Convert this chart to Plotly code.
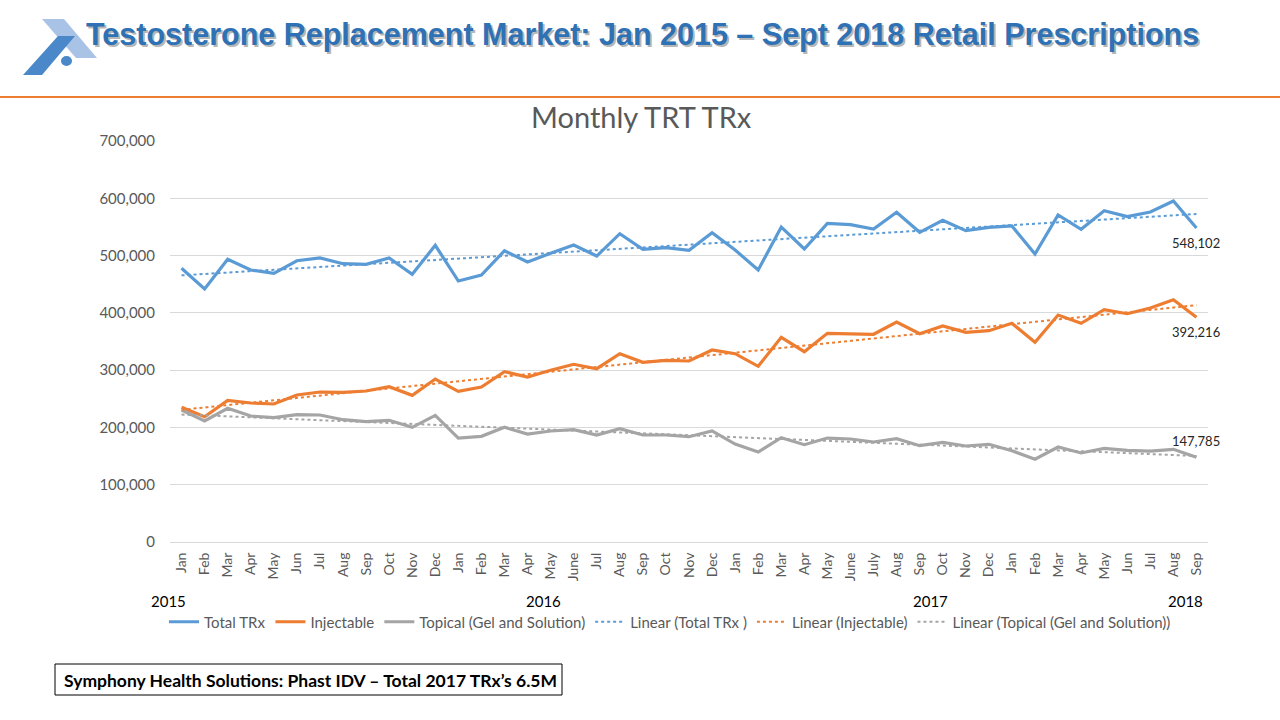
import numpy as np
import plotly.graph_objects as go

months = ["Jan","Feb","Mar","Apr","May","Jun","Jul","Aug","Sep","Oct","Nov","Dec",
          "Jan","Feb","Mar","Apr","May","June","Jul","Aug","Sep","Oct","Nov","Dec",
          "Jan","Feb","Mar","Apr","May","June","July","Aug","Sep","Oct","Nov","Dec",
          "Jan","Feb","Mar","Apr","May","Jun","Jul","Aug","Sep"]
years = ["2015", "2016", "2017", "2018"]
year_label_px = [168, 543, 930, 1185]

total_trx = [477800, 441600, 493500, 474800, 469000, 491000, 495800, 485800, 484700, 495800, 467300, 517900,
             455600, 466000, 508500, 488800, 504000, 518400, 499200, 538200, 510900, 513800, 509200, 540000,
             509700, 474800, 549900, 511500, 556300, 553900, 546400, 575500, 540600, 561600, 543500, 549300,
             551600, 502700, 570800, 545800, 578300, 567900, 576000, 595300, 548102]
injectable = [235100, 218700, 247300, 242600, 240900, 256600, 261800, 261300, 263600, 271100, 256000, 284500,
              263000, 270600, 297300, 288000, 299700, 310200, 302500, 328700, 313700, 317200, 316000, 335200,
              328700, 306700, 357300, 332200, 364300, 364000, 362600, 384000, 363600, 377000, 366000, 368900,
              381700, 348600, 396200, 381700, 405500, 398500, 408500, 423000, 392216]
topical = [230400, 211200, 233400, 219900, 217000, 222200, 221700, 213500, 210000, 212400, 200200, 221100,
           181500, 184500, 200200, 188500, 193800, 196000, 186800, 197800, 186800, 186800, 183800, 193800,
           171000, 157100, 182100, 169900, 181500, 179800, 174600, 180300, 168100, 174000, 167600, 170500,
           159400, 144400, 165800, 155400, 163500, 160000, 158800, 161800, 147785]

series = [("Total TRx", total_trx, "#5B9BD5", "Linear (Total TRx )"),
          ("Injectable", injectable, "#ED7D31", "Linear (Injectable)"),
          ("Topical (Gel and Solution)", topical, "#A5A5A5", "Linear (Topical (Gel and Solution))")]

x = np.arange(len(months))

W, H = 1280, 720
ML, MR, MT, MB = 170, 72, 141, 178
PW, PH = W - ML - MR, H - MT - MB


def xp(px):
    return (px - ML) / PW


def yp(py):
    return (H - MB - py) / PH


FONT = "Lato"
fig = go.Figure()

for name, vals, col, _ in series:
    fig.add_trace(go.Scatter(x=x, y=vals, mode="lines", name=name,
                             line=dict(color=col, width=3.2)))
for name, vals, col, tname in series:
    k, b = np.polyfit(x, np.array(vals, dtype=float), 1)
    fig.add_trace(go.Scatter(x=x, y=k * x + b, mode="lines", name=tname,
                             line=dict(color=col, width=2, dash="dot")))

annotations = []
# end data labels
for vals, ys, in [(total_trx, -15), (injectable, -15), (topical, 16)]:
    annotations.append(dict(x=x[-1], y=vals[-1], xref="x", yref="y", text=f"{vals[-1]:,}",
                            showarrow=False, yshift=ys, font=dict(family=FONT, size=13, color="#262626")))
# year labels
for yr, px in zip(years, year_label_px):
    annotations.append(dict(x=xp(px), y=yp(601), xref="paper", yref="paper", text=yr, showarrow=False,
                            xanchor="center", yanchor="middle", font=dict(family=FONT, size=15, color="#000000")))
# chart title
annotations.append(dict(x=xp(641), y=yp(117), xref="paper", yref="paper", text="Monthly TRT TRx",
                        showarrow=False, xanchor="center", yanchor="middle",
                        font=dict(family=FONT, size=29, color="#595959")))
# slide title with shadow
title_txt = "<b>Testosterone Replacement Market: Jan 2015 \u2013 Sept 2018 Retail Prescriptions</b>"
annotations.append(dict(x=xp(84), y=yp(34), xref="paper", yref="paper", text=title_txt, showarrow=False,
                        xanchor="left", yanchor="middle", xshift=2, yshift=-2,
                        font=dict(family="Liberation Sans", size=30.5, color="rgba(120,120,120,0.55)")))
annotations.append(dict(x=xp(84), y=yp(34), xref="paper", yref="paper", text=title_txt, showarrow=False,
                        xanchor="left", yanchor="middle",
                        font=dict(family="Liberation Sans", size=30.5, color="#2E71B5")))
# footnote
annotations.append(dict(x=xp(62), y=yp(680), xref="paper", yref="paper",
                        text="<b>Symphony Health Solutions: Phast IDV \u2013 Total 2017 TRx\u2019s 6.5M</b>",
                        showarrow=False, xanchor="left", yanchor="middle",
                        font=dict(family=FONT, size=17.5, color="#000000")))


def poly(pts):
    return "M " + " L ".join(f"{xp(a):.5f},{yp(b):.5f}" for a, b in pts) + " Z"


shapes = [
    dict(type="line", xref="paper", yref="paper", x0=xp(0), x1=xp(1280), y0=yp(97), y1=yp(97),
         line=dict(color="#ED7D31", width=2)),
    dict(type="rect", xref="paper", yref="paper", x0=xp(55), x1=xp(562), y0=yp(664), y1=yp(695),
         line=dict(color="#000000", width=1), fillcolor="rgba(0,0,0,0)"),
    dict(type="path", xref="paper", yref="paper", path=poly([(42, 19), (64, 19), (97, 58), (76, 58)]),
         fillcolor="#A9C3E6", line=dict(width=0)),
    dict(type="path", xref="paper", yref="paper", path=poly([(23, 75), (42, 75), (75, 36), (58, 36)]),
         fillcolor="#4A88C9", line=dict(width=0)),
    dict(type="circle", xref="paper", yref="paper", x0=xp(61), x1=xp(72), y0=yp(56), y1=yp(66),
         fillcolor="#4A88C9", line=dict(width=0)),
]

fig.update_layout(
    width=W, height=H,
    margin=dict(l=ML, r=MR, t=MT, b=MB),
    paper_bgcolor="white", plot_bgcolor="white",
    showlegend=True,
    legend=dict(orientation="h", x=xp(670), xanchor="center", y=yp(622), yanchor="middle",
                font=dict(family=FONT, size=15, color="#595959"), itemwidth=30),
    xaxis=dict(range=[-0.5, len(months) - 0.5], tickmode="array", tickvals=x, ticktext=months,
               tickangle=-90, showgrid=False, zeroline=False, showline=True, linecolor="#D9D9D9",
               linewidth=1, ticks="", tickfont=dict(family=FONT, size=14, color="#595959"),
               ticklabelstandoff=4),
    yaxis=dict(range=[0, 700000], tickmode="array", tickvals=list(range(0, 700001, 100000)),
               tickformat=",d", showgrid=True, gridcolor="#D9D9D9", gridwidth=1, zeroline=False,
               ticks="", tickfont=dict(family=FONT, size=15, color="#595959"), ticklabelstandoff=14),
    annotations=annotations,
    shapes=shapes,
)

fig.write_html("out.html", config={"displayModeBar": False},
               post_script="document.body.style.margin='0';document.body.style.padding='0';")
